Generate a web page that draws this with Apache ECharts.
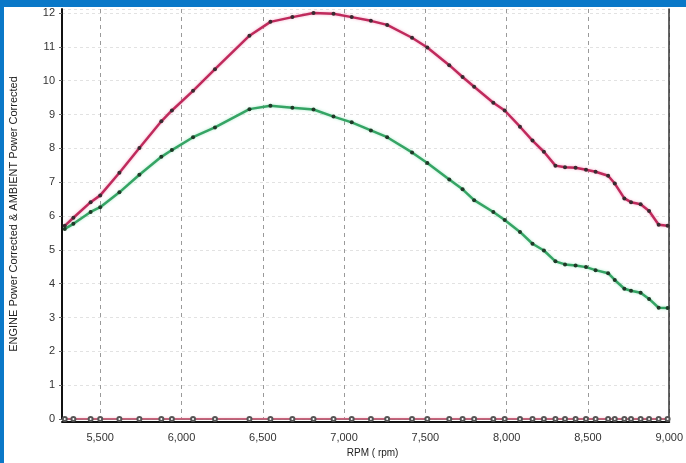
<!DOCTYPE html>
<html>
<head>
<meta charset="utf-8">
<script src="https://cdn.jsdelivr.net/npm/echarts@6/dist/echarts.min.js"></script>
<style>
  html, body { margin: 0; padding: 0; background: #fff; }
  #chart { width: 686px; height: 463px; }
</style>
</head>
<body>
<div id="chart"></div>
<script>
// rpm points shared by both curves
var rpm = [5282, 5335, 5441, 5500, 5618, 5741, 5876, 5941, 6071, 6206,
  6418, 6547, 6682, 6812, 6935, 7047, 7165, 7265, 7418, 7512,
  7647, 7729, 7800, 7918, 7988, 8082, 8159, 8229, 8300, 8359,
  8424, 8488, 8547, 8624, 8665, 8724, 8765, 8824, 8876, 8935, 8990];

// ENGINE Power Corrected (red)
var enginePower = [5.71, 5.95, 6.41, 6.61, 7.28, 8.01, 8.80, 9.12, 9.70, 10.34,
  11.33, 11.74, 11.88, 12.00, 11.98, 11.88, 11.77, 11.65, 11.27, 10.98,
  10.46, 10.11, 9.82, 9.35, 9.12, 8.64, 8.23, 7.90, 7.49, 7.44,
  7.43, 7.37, 7.31, 7.19, 6.96, 6.52, 6.41, 6.35, 6.15, 5.74, 5.71];

// AMBIENT Power Corrected (green)
var ambientPower = [5.62, 5.77, 6.12, 6.26, 6.70, 7.22, 7.75, 7.95, 8.33, 8.62,
  9.16, 9.26, 9.20, 9.15, 8.94, 8.77, 8.53, 8.33, 7.88, 7.57,
  7.08, 6.79, 6.47, 6.12, 5.88, 5.53, 5.18, 4.98, 4.66, 4.57,
  4.54, 4.49, 4.40, 4.31, 4.11, 3.85, 3.79, 3.73, 3.55, 3.29, 3.28];

// third channel sitting on the baseline
var baseChannel = [0, 0, 0, 0, 0, 0, 0, 0, 0, 0,
  0, 0, 0, 0, 0, 0, 0, 0, 0, 0,
  0, 0, 0, 0, 0, 0, 0, 0, 0, 0,
  0, 0, 0, 0, 0, 0, 0, 0, 0, 0, 0];

var xTitle = "RPM ( rpm)";
var yTitle = "ENGINE Power Corrected & AMBIENT Power Corrected";

function pairs(ys) {
  var out = [];
  for (var i = 0; i < rpm.length; i++) {
    out.push([rpm[i], ys[i]]);
  }
  return out;
}

var xMin = 5265, xMax = 9000;
var yMin = 0, yMax = 12.12;

var myChart = echarts.init(document.getElementById("chart"));
var option = {
  animation: false,
  backgroundColor: "#fff",
  textStyle: { fontFamily: "Liberation Sans, Arial, sans-serif" },
  grid: { left: 43, right: 10, top: 9, bottom: 40 },
  graphic: [
    { type: "rect", shape: { x: 0, y: 0, width: 686, height: 7 }, style: { fill: "#0a78c8" }, z: 100 },
    { type: "rect", shape: { x: 0, y: 0, width: 4, height: 463 }, style: { fill: "#0a78c8" }, z: 100 }
  ],
  xAxis: [
    {
      type: "value",
      min: xMin,
      max: xMax,
      splitNumber: 8,
      offset: 3,
      name: xTitle,
      nameLocation: "middle",
      nameGap: 26,
      nameTextStyle: { color: "#222", fontSize: 10, padding: [0, 0, 0, 14] },
      axisLine: { show: true, onZero: false, lineStyle: { color: "#111", width: 2 } },
      axisTick: { show: false },
      axisLabel: {
        color: "#333",
        fontSize: 11,
        margin: 10,
        showMinLabel: false,
        formatter: function (v) { return v.toLocaleString("en-US"); }
      },
      splitLine: { show: true, lineStyle: { color: "#9a9a9a", type: [4, 4], width: 1 } }
    },
    {
      type: "value",
      position: "top",
      min: xMin,
      max: xMax,
      axisLine: { show: true, lineStyle: { color: "#333", width: 1.5 } },
      axisTick: { show: false },
      axisLabel: { show: false },
      splitLine: { show: false }
    }
  ],
  yAxis: [
    {
      type: "value",
      min: yMin,
      max: yMax,
      interval: 1,
      name: yTitle,
      nameLocation: "middle",
      nameGap: 29,
      nameTextStyle: { color: "#222", fontSize: 11, padding: [0, 0, 14, 0] },
      axisLine: { show: true, lineStyle: { color: "#111", width: 2 } },
      axisTick: { show: true, length: 3, lineStyle: { color: "#666" } },
      axisLabel: { color: "#333", fontSize: 11, margin: 7, showMaxLabel: false },
      splitLine: { show: true, lineStyle: { color: "#e2e2e2", type: [3, 3], width: 1 } }
    },
    {
      type: "value",
      position: "right",
      min: yMin,
      max: yMax,
      axisLine: { show: true, lineStyle: { color: "#333", width: 1.5 } },
      axisTick: { show: false },
      axisLabel: { show: false },
      splitLine: { show: false }
    }
  ],
  series: [
    {
      name: "ENGINE Power Corrected",
      type: "line",
      data: pairs(enginePower),
      symbol: "circle",
      symbolSize: 4,
      itemStyle: { color: "#3a2a30" },
      lineStyle: { color: "#bf2a5c", width: 2.5, shadowColor: "rgba(235,120,165,0.6)", shadowBlur: 3 },
      z: 3
    },
    {
      name: "AMBIENT Power Corrected",
      type: "line",
      data: pairs(ambientPower),
      symbol: "circle",
      symbolSize: 4,
      itemStyle: { color: "#1f3a28" },
      lineStyle: { color: "#35a464", width: 2.5, shadowColor: "rgba(120,220,170,0.6)", shadowBlur: 3 },
      z: 3
    },
    {
      name: "baseline",
      type: "line",
      data: pairs(baseChannel),
      symbol: "emptyCircle",
      symbolSize: 4,
      itemStyle: { color: "#555", borderWidth: 1 },
      lineStyle: { color: "#e0607f", width: 1.5, shadowColor: "rgba(240,150,170,0.6)", shadowBlur: 3 },
      z: 4
    }
  ]
};
myChart.setOption(option, true);
</script>
</body>
</html>
